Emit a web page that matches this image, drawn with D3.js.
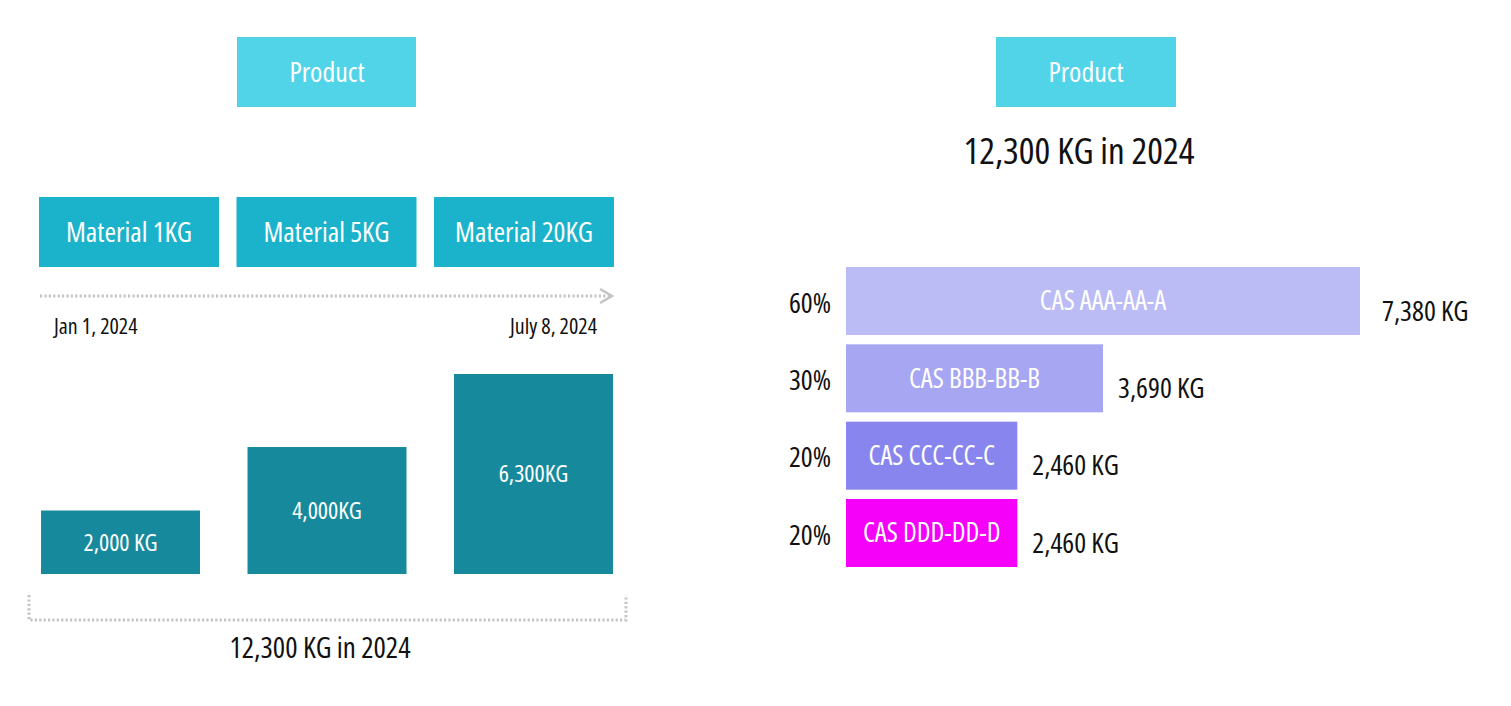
<!DOCTYPE html>
<html>
<head>
<meta charset="utf-8">
<script src="https://cdn.jsdelivr.net/npm/d3@7"></script>
<style>
  html, body { margin: 0; padding: 0; background: #fff; }
  svg { display: block; }
  text { font-family: "Open Sans", "Liberation Sans Narrow", "DejaVu Sans Condensed", sans-serif; font-stretch: 75%; }
</style>
</head>
<body>
<svg id="chart" width="1511" height="706"></svg>
<script>
// ---- data ----
const productLabel = "Product";
const materials = ["Material 1KG", "Material 5KG", "Material 20KG"];
const materialValues = [2000, 4000, 6300];
const materialValueLabels = ["2,000 KG", "4,000KG", "6,300KG"];
const dateLabels = ["Jan 1, 2024", "July 8, 2024"];
const totalLabel = "12,300 KG in 2024";
const casNames = ["CAS AAA-AA-A", "CAS BBB-BB-B", "CAS CCC-CC-C", "CAS DDD-DD-D"];
const casValues = [7380, 3690, 2460, 2460];
const casShares = ["60%", "30%", "20%", "20%"];
const casValueLabels = ["7,380 KG", "3,690 KG", "2,460 KG", "2,460 KG"];
const casColors = ["#BBBBF5", "#A7A6F2", "#8886EE", "#F500F8"];

const svg = d3.select("#chart");
const productColor = "#52D4E8";
const materialColor = "#1BB3CB";
const barColor = "#168A9C";
const dotColor = "#C4C4C4";
const ink = "#111";

// ---------- LEFT PANEL ----------
const left = svg.append("g");

// product box
left.append("rect").attr("x", 237).attr("y", 37).attr("width", 179).attr("height", 70).attr("fill", productColor);
left.append("text").attr("x", 327).attr("y", 72).attr("dy", "0.35em")
  .attr("text-anchor", "middle").attr("fill", "#fff").attr("font-size", 28).attr("font-weight", 500)
  .text(productLabel);

// material boxes
const xBox = d3.scaleBand().domain(materials).range([39, 614]).paddingInner(0.0886).paddingOuter(0);
const mg = left.selectAll("g.mat").data(materials).join("g").attr("class", "mat");
mg.append("rect").attr("x", d => xBox(d)).attr("y", 197).attr("width", xBox.bandwidth()).attr("height", 70).attr("fill", materialColor);
mg.append("text").attr("x", d => xBox(d) + xBox.bandwidth() / 2).attr("y", 232).attr("dy", "0.35em")
  .attr("text-anchor", "middle").attr("fill", "#fff").attr("font-size", 28).attr("font-weight", 500)
  .text(d => d);

// timeline dotted arrow
const tl = d3.scaleLinear().domain([0, 1]).range([40, 612]);
left.append("line").attr("x1", tl(0)).attr("x2", tl(1) - 2).attr("y1", 296).attr("y2", 296)
  .attr("stroke", dotColor).attr("stroke-width", 3).attr("stroke-dasharray", "2.2,2.2");
left.append("path").attr("d", `M${tl(1) - 12},${289} L${tl(1)},${296} L${tl(1) - 12},${303}`)
  .attr("fill", "none").attr("stroke", dotColor).attr("stroke-width", 2.5);

left.append("text").attr("x", 54).attr("y", 334).attr("font-size", 22).attr("font-weight", 500).attr("fill", ink).text(dateLabels[0]);
left.append("text").attr("x", 597).attr("y", 334).attr("text-anchor", "end").attr("font-size", 22).attr("font-weight", 500).attr("fill", ink).text(dateLabels[1]);

// bars
const xBar = d3.scaleBand().domain(materials).range([41, 613]).paddingInner(0.23).paddingOuter(0);
const yBar = d3.scaleLinear().domain([0, 6300]).range([574, 374]);
const bg = left.selectAll("g.bar").data(materials).join("g").attr("class", "bar");
bg.append("rect").attr("x", d => xBar(d)).attr("width", xBar.bandwidth())
  .attr("y", (d, i) => yBar(materialValues[i])).attr("height", (d, i) => yBar(0) - yBar(materialValues[i]))
  .attr("fill", barColor);
bg.append("text").attr("x", d => xBar(d) + xBar.bandwidth() / 2)
  .attr("y", (d, i) => (yBar(materialValues[i]) + yBar(0)) / 2).attr("dy", "0.35em")
  .attr("text-anchor", "middle").attr("fill", "#fff").attr("font-size", 24).attr("font-weight", 500)
  .text((d, i) => materialValueLabels[i]);

// bracket
left.append("path").attr("d", "M29,595 L29,620 L626,620 L626,595")
  .attr("fill", "none").attr("stroke", dotColor).attr("stroke-width", 3).attr("stroke-dasharray", "2.2,2.2");
left.append("text").attr("x", 320).attr("y", 648).attr("dy", "0.35em").attr("text-anchor", "middle")
  .attr("font-size", 29).attr("font-weight", 500).attr("fill", ink).text(totalLabel);

// ---------- RIGHT PANEL ----------
const right = svg.append("g");
right.append("rect").attr("x", 996).attr("y", 37).attr("width", 180).attr("height", 70).attr("fill", productColor);
right.append("text").attr("x", 1086).attr("y", 72).attr("dy", "0.35em")
  .attr("text-anchor", "middle").attr("fill", "#fff").attr("font-size", 28).attr("font-weight", 500)
  .text(productLabel);
right.append("text").attr("x", 1079).attr("y", 151).attr("dy", "0.35em").attr("text-anchor", "middle")
  .attr("font-size", 37).attr("font-weight", 500).attr("fill", ink).text(totalLabel);

const yCas = d3.scaleBand().domain(casNames).range([267, 567]).paddingInner(0.1207).paddingOuter(0);
const xCas = d3.scaleLinear().domain([0, 7380]).range([846, 1360]);
const cg = right.selectAll("g.cas").data(casNames).join("g").attr("class", "cas");
cg.append("rect").attr("x", xCas(0)).attr("y", d => yCas(d))
  .attr("width", (d, i) => xCas(casValues[i]) - xCas(0)).attr("height", yCas.bandwidth())
  .attr("fill", (d, i) => casColors[i]);
cg.append("text").attr("x", (d, i) => (xCas(0) + xCas(casValues[i])) / 2)
  .attr("y", d => yCas(d) + yCas.bandwidth() / 2).attr("dy", "0.35em")
  .attr("text-anchor", "middle").attr("fill", "#fff").attr("font-size", 27).attr("font-weight", 500)
  .text(d => d);
cg.append("text").attr("x", 831).attr("y", d => yCas(d) + yCas.bandwidth() / 2 + 2).attr("dy", "0.35em")
  .attr("text-anchor", "end").attr("fill", ink).attr("font-size", 28).attr("font-weight", 500)
  .text((d, i) => casShares[i]);
cg.append("text").attr("x", (d, i) => xCas(casValues[i]) + (i === 0 ? 22 : 15))
  .attr("y", d => yCas(d) + yCas.bandwidth() / 2 + 10).attr("dy", "0.35em")
  .attr("fill", ink).attr("font-size", 28).attr("font-weight", 500)
  .text((d, i) => casValueLabels[i]);
</script>
</body>
</html>
